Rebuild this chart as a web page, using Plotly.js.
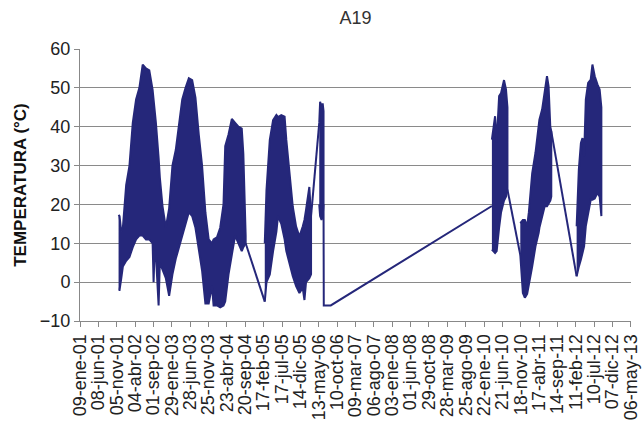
<!DOCTYPE html>
<html>
<head>
<meta charset="utf-8">
<script src="https://cdn.plot.ly/plotly-3.0.1.min.js"></script>
<style>html,body{margin:0;padding:0;background:#fff;}#chart{width:644px;height:432px;}</style>
</head>
<body>
<div id="chart"></div>
<script>
// ---- tick labels (every 150 days) ----
const tickDates = ['2001-01-09','2001-06-08','2001-11-05','2002-04-04','2002-09-01','2003-01-29','2003-06-28','2003-11-25','2004-04-23','2004-09-20','2005-02-17','2005-07-17','2005-12-14','2006-05-13','2006-10-10','2007-03-09','2007-08-06','2008-01-03','2008-06-01','2008-10-29','2009-03-28','2009-08-25','2010-01-22','2010-06-21','2010-11-18','2011-04-17','2011-09-14','2012-02-11','2012-07-10','2012-12-07','2013-05-06'];
const tickLabels = ['09-ene-01','08-jun-01','05-nov-01','04-abr-02','01-sep-02','29-ene-03','28-jun-03','25-nov-03','23-abr-04','20-sep-04','17-feb-05','17-jul-05','14-dic-05','13-may-06','10-oct-06','09-mar-07','06-ago-07','03-ene-08','01-jun-08','29-oct-08','28-mar-09','25-ago-09','22-ene-10','21-jun-10','18-nov-10','17-abr-11','14-sep-11','11-feb-12','10-jul-12','07-dic-12','06-may-13'];

// ---- dense daily readings, read as daily max / daily min envelopes ----
const seg1Dates = ['2001-11-20','2001-11-28','2001-12-12','2001-12-25','2002-01-21','2002-02-17','2002-03-16','2002-04-12','2002-05-09','2002-06-05','2002-07-02','2002-07-29','2002-08-25','2002-09-02','2002-09-10','2002-09-21','2002-10-13','2002-10-23','2002-11-14','2002-12-11','2003-01-07','2003-02-03','2003-03-02','2003-03-28','2003-04-24','2003-05-21','2003-06-17','2003-07-14','2003-08-10','2003-09-06','2003-10-03','2003-10-30','2003-11-26','2003-12-23','2004-01-05','2004-02-01','2004-02-28','2004-03-26','2004-04-09','2004-05-06','2004-06-02','2004-06-29','2004-07-26','2004-08-22','2004-09-04','2004-09-23'];
const seg1Max = [17.3,17,13,14,25,30,41,47,50,56,55,54.5,49.5,47,45,41,32,27,19.5,14,19,30,34,41,47,50,52.5,52,47.5,38,30,18,11,10,11,11.5,14,20,35,38,42,41,40,39.5,33,12];
const seg1Min = [-2,-2,1,4,5.5,6.5,9,11,12,12,11,11,10,0,8,7,-6,5,3,1,-3.5,2,6,9,12,15,18,17,14,9,3,-5.5,-5.5,-1,-6,-6,-6.5,-6,-5,2,7,12,10,8,9,10];

const seg2Dates = ['2005-02-26','2005-03-12','2005-04-08','2005-05-05','2005-06-01','2005-06-14','2005-07-11','2005-08-07','2005-08-21','2005-09-17','2005-10-13','2005-11-09','2005-12-06','2006-01-02','2006-01-16','2006-01-29','2006-02-25','2006-03-11'];
const seg2Max = [10,23.7,36.6,41.7,43,42.5,43,42.6,36.6,28,19.4,14.3,11.7,14.3,16,18.6,24.5,17];
const seg2Min = [-5,0,2,8,13,17,15,11,8,5,1.5,-1,-2.8,-1.5,-4.6,0,1,2];

const seg3Dates = ['2006-05-17','2006-05-24','2006-06-05','2006-06-14','2006-06-21'];
const seg3Max = [41,46.4,45,46,44];
const seg3Min = [20,17,16,17,20];

const seg4Dates = ['2010-03-27','2010-04-08','2010-04-22','2010-05-05','2010-05-25','2010-06-10','2010-07-04','2010-07-20','2010-08-01'];
const seg4Max = [36.7,40,42.7,36,47.9,48.7,52,49.6,45];
const seg4Min = [8.4,8,7.5,8,14,18,21,22,23.8];

const seg5Dates = ['2010-11-14','2010-12-05','2010-12-21','2011-01-09','2011-01-23','2011-02-19','2011-03-18','2011-04-13','2011-04-19','2011-05-11','2011-06-01','2011-06-20','2011-07-03','2011-07-17','2011-07-25'];
const seg5Max = [15.2,16,16,14.4,18,28,33.3,41,41.8,44.4,49.6,53,50.4,40,38.8];
const seg5Min = [7,-2.8,-4,-3,-1,4,9.2,12.7,14,17,19.5,19.5,20,21,22];

const seg6Dates = ['2012-02-17','2012-03-06','2012-03-23','2012-04-05','2012-04-18','2012-05-02','2012-05-21','2012-06-11','2012-06-25','2012-07-14','2012-08-05','2012-08-23','2012-09-06'];
const seg6Max = [14.4,29,35.8,37.1,32.4,47,51.3,52.1,56,53,50.9,49.6,45];
const seg6Min = [1.5,4,5.8,7,9.2,14.4,17,21.2,21.2,21.5,23,22,17];

// straight lines joining readings across the gaps in the record
const gapDates = ['2004-09-23','2005-02-26',null,'2006-03-11','2006-05-17',null,'2006-06-21','2006-06-23','2006-08-19','2010-03-27',null,'2010-08-01','2010-11-14',null,'2011-07-25','2012-02-17'];
const gapValues = [10,-5,null,17,41,null,20,-6,-6,19.6,null,23.8,7,null,38.8,1.5];

const navy = '#25277a';
const segments = [
  [seg1Dates, seg1Max, seg1Min],
  [seg2Dates, seg2Max, seg2Min],
  [seg3Dates, seg3Max, seg3Min],
  [seg4Dates, seg4Max, seg4Min],
  [seg5Dates, seg5Max, seg5Min],
  [seg6Dates, seg6Max, seg6Min]
];
const traces = segments.map(([d, hi, lo]) => ({
  type: 'scatter', mode: 'lines',
  x: d.concat(d.slice().reverse()),
  y: hi.concat(lo.slice().reverse()),
  fill: 'toself', fillcolor: navy,
  line: {color: navy, width: 2},
  hoverinfo: 'skip', showlegend: false
}));
traces.push({
  type: 'scatter', mode: 'lines', x: gapDates, y: gapValues,
  connectgaps: false, line: {color: navy, width: 2},
  hoverinfo: 'skip', showlegend: false
});

const font = '"Liberation Sans", Arial, sans-serif';
const layout = {
  width: 644, height: 432,
  margin: {l: 80, r: 13, t: 49, b: 111},
  paper_bgcolor: '#fff', plot_bgcolor: '#fff',
  font: {family: font, color: '#222'},
  showlegend: false,
  title: {text: 'A19', font: {family: font, size: 18, color: '#333'},
          xref: 'paper', x: 0.5, xanchor: 'center', yref: 'container', y: 1 - 18/432, yanchor: 'middle'},
  xaxis: {
    type: 'date', range: ['2001-01-09', '2013-05-06 02:00'],
    tickmode: 'array', tickvals: tickDates, ticktext: tickLabels,
    tickangle: -90, tickfont: {family: font, size: 18, color: '#222'},
    ticklabeloverflow: 'allow',
    ticks: 'outside', ticklen: 5, tickcolor: '#888',
    showline: true, linecolor: '#888', linewidth: 1,
    showgrid: false, zeroline: false, automargin: false
  },
  yaxis: {
    range: [-10, 60], tickmode: 'linear', tick0: -10, dtick: 10,
    tickfont: {family: font, size: 18, color: '#222'},
    ticks: 'outside', ticklen: 5, tickcolor: '#888',
    showline: true, linecolor: '#888', linewidth: 1,
    showgrid: true, gridcolor: '#8a8a8a', gridwidth: 1,
    zeroline: false, automargin: false,
    title: {text: '<b>TEMPERATURA (°C)</b>', font: {family: font, size: 17, color: '#111'}, standoff: 8}
  }
};
Plotly.newPlot('chart', traces, layout, {displayModeBar: false, staticPlot: true});
</script>
</body>
</html>
